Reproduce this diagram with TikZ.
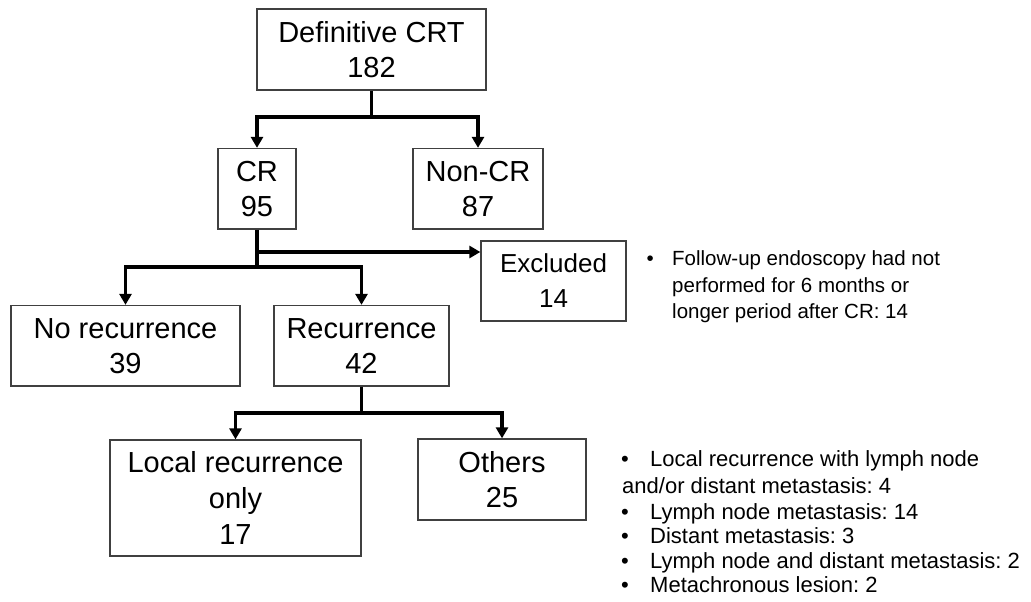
\documentclass[tikz,border=0pt]{standalone}
\usepackage{fontspec}
\setmainfont{Liberation Sans}
\usetikzlibrary{arrows.meta}
\frenchspacing
\begin{document}
\begin{tikzpicture}[x=1pt,y=-1pt,
  box/.style={draw=black!75, line width=1.3pt, inner sep=0pt, align=center, text=black, font=\fontsize{29}{35}\selectfont},
  conn/.style={line width=3.2pt, draw=black},
  arr/.style={conn, -{Triangle[width=12pt,length=11pt]}},
  note/.style={anchor=base west, inner sep=0pt, font=\fontsize{20.5}{26}\selectfont},
  note2/.style={anchor=base west, inner sep=0pt, font=\fontsize{22}{25}\selectfont}]
\useasboundingbox (0,0) rectangle (1031,602);

% boxes
\node[box, minimum width=229pt, minimum height=81pt] (top) at (371.5,49.5) {Definitive CRT\\182};
\node[box, minimum width=78pt, minimum height=80.5pt] (cr) at (257,188.75) {CR\\95};
\node[box, minimum width=130pt, minimum height=80.5pt] (ncr) at (478,188.75) {Non-CR\\87};
\node[box, minimum width=145pt, minimum height=80pt, font=\fontsize{26}{35}\selectfont] (exc) at (553.5,281) {Excluded\\14};
\node[box, minimum width=229pt, minimum height=80.5pt] (norec) at (125.5,345.75) {No recurrence\\39};
\node[box, minimum width=175pt, minimum height=80.5pt] (rec) at (361.5,345.75) {Recurrence\\42};
\node[box, minimum width=251pt, minimum height=116pt, font=\fontsize{29}{36}\selectfont] (local) at (235.5,498) {Local recurrence\\only\\17};
\node[box, minimum width=168pt, minimum height=81pt] (oth) at (502,479.5) {Others\\25};

% connectors
\coordinate (j1) at (371.5,117);
\draw[conn] (top.south) -- (j1);
\draw[arr] (j1) -| (cr.north);
\draw[arr] (j1) -| (ncr.north);

\coordinate (b1) at (257,252);
\coordinate (b2) at (257,267);
\draw[conn] (cr.south) -- (b2);
\draw[arr] (b1) -- (exc.west |- b1);
\draw[arr] (b2) -| (norec.north);
\draw[arr] (b2) -| (rec.north);

\coordinate (b3) at (361.5,413);
\draw[conn] (rec.south) -- (b3);
\draw[arr] (b3) -| (local.north);
\draw[arr] (b3) -| (oth.north);

% notes for excluded
\node[note] (e0) at (646.4,265.5) {•};
\node[note] (e1) at (672,265.5) {Follow-up endoscopy had not};
\node[note] (e2) at (672,292.5) {performed for 6 months or};
\node[note] (e3) at (672,318.5) {longer period after CR: 14};

% notes for others
\node[note2] (r0) at (621,466.5) {•};
\node[note2] (r1) at (650,466.5) {Local recurrence with lymph node};
\node[note2] (r2) at (622,493) {and/or distant metastasis: 4};
\node[note2] (r3a) at (621,519) {•};
\node[note2] (r3) at (650,519) {Lymph node metastasis: 14};
\node[note2] (r4a) at (621,543.5) {•};
\node[note2] (r4) at (650,543.5) {Distant metastasis: 3};
\node[note2] (r5a) at (621,568) {•};
\node[note2] (r5) at (650,568) {Lymph node and distant metastasis: 2};
\node[note2] (r6a) at (621,592) {•};
\node[note2] (r6) at (650,592) {Metachronous lesion: 2};
\end{tikzpicture}
\end{document}
